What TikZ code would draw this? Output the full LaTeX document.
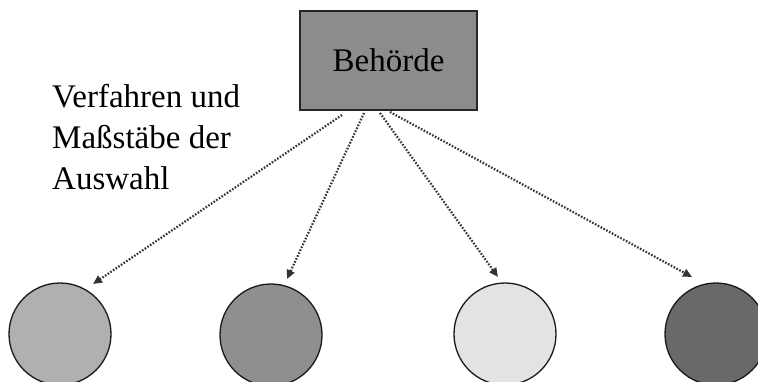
\documentclass[tikz,border=0pt]{standalone}
\usepackage{fontspec}
\setmainfont{Liberation Serif}
\usetikzlibrary{arrows.meta}
\begin{document}
\begin{tikzpicture}[x=1pt,y=-1pt,
  conn/.style={line width=2.2pt, dash pattern=on 1.6pt off 1.6pt, black!80, -{Triangle[length=9pt,width=8pt]}},
  member/.style={circle, draw=black!90, line width=1.3pt, minimum size=102pt, inner sep=0pt},
  txt/.style={font=\fontsize{33}{41}\selectfont}]
\useasboundingbox (0,0) rectangle (758,381);
\begin{scope}
\clip (0,0) rectangle (758,381);
\node[draw=black!85, line width=1.3pt, fill=black!45, minimum width=177pt, minimum height=99pt, inner sep=0pt, txt] (box) at (388.5,60.5) {Behörde};
\node[txt, anchor=north west, align=left, inner sep=0pt] (lbl) at (52,84) {Verfahren und\\Maßstäbe der\\Auswahl};
\node[member, fill=black!31] (c1) at (60,334) {};
\node[member, fill=black!44] (c2) at (271,335) {};
\node[member, fill=black!11] (c3) at (505,334) {};
\node[member, fill=black!59] (c4) at (716,334) {};
\coordinate (s1) at (342,115);
\coordinate (s2) at (364,113);
\coordinate (s3) at (380,113);
\coordinate (s4) at (390,112);
\coordinate (t1) at (93,284);
\coordinate (t2) at (287,279);
\coordinate (t3) at (498,277);
\coordinate (t4) at (692,277);
\draw[conn] (s1) -- (t1);
\draw[conn] (s2) -- (t2);
\draw[conn] (s3) -- (t3);
\draw[conn] (s4) -- (t4);
\end{scope}
\end{tikzpicture}
\end{document}
